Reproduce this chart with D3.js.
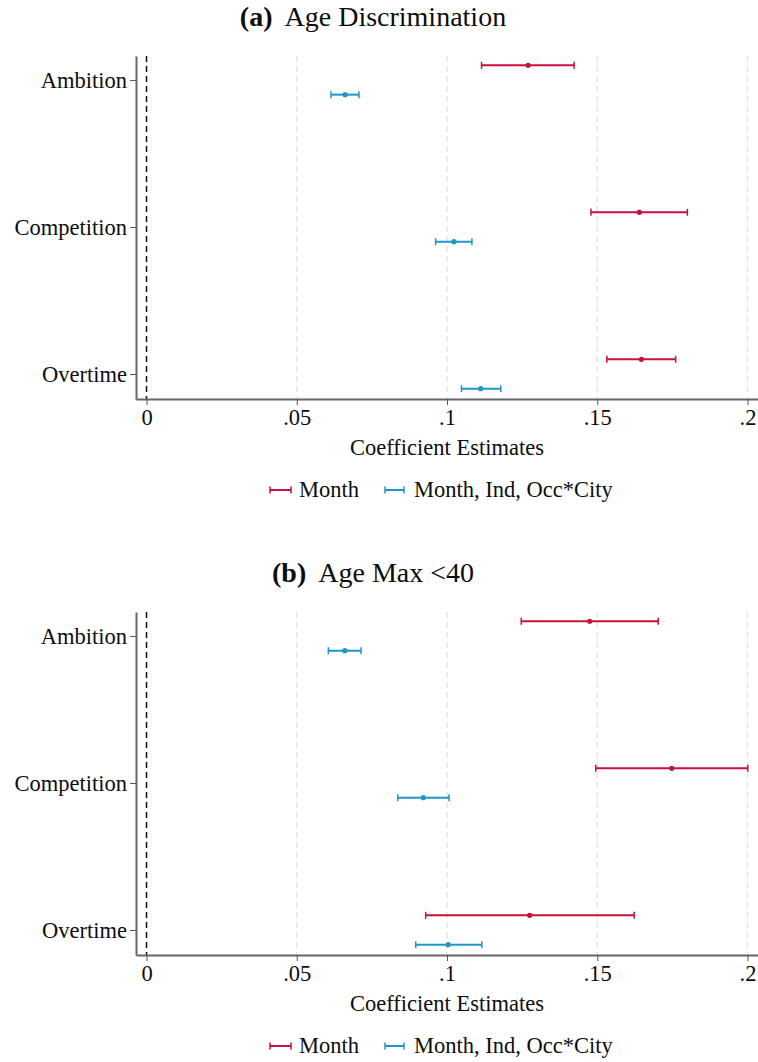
<!DOCTYPE html>
<html>
<head>
<meta charset="utf-8">
<script src="https://cdn.jsdelivr.net/npm/d3@7"></script>
<style>
  html, body { margin: 0; padding: 0; background: #fff; }
  svg { display: block; }
</style>
</head>
<body>
<svg id="chart" width="758" height="1062"></svg>
<script>
// Outcome categories shown on the vertical axis
const categories = ["Ambition", "Competition", "Overtime"];

// Series names (fixed-effect specifications)
const seriesNames = ["Month", "Month, Ind, Occ*City"];

// Panel (a): Age Discrimination
const ageDiscMonthEst = [0.1270, 0.1640, 0.1647];
const ageDiscMonthLo  = [0.1115, 0.1479, 0.1532];
const ageDiscMonthHi  = [0.1423, 0.1800, 0.1761];
const ageDiscFullEst  = [0.0661, 0.1023, 0.1112];
const ageDiscFullLo   = [0.0614, 0.0962, 0.1048];
const ageDiscFullHi   = [0.0707, 0.1083, 0.1179];

// Panel (b): Age Max <40
const ageMaxMonthEst = [0.1475, 0.1748, 0.1275];
const ageMaxMonthLo  = [0.1247, 0.1495, 0.0929];
const ageMaxMonthHi  = [0.1703, 0.2001, 0.1623];
const ageMaxFullEst  = [0.0660, 0.0921, 0.1004];
const ageMaxFullLo   = [0.0605, 0.0836, 0.0896];
const ageMaxFullHi   = [0.0714, 0.1007, 0.1116];

// X-axis ticks and their labels
const xTickValues = [0, 0.05, 0.1, 0.15, 0.2];
const xTickLabels = ["0", ".05", ".1", ".15", ".2"];

const FONT = "'Liberation Serif', 'Times New Roman', Times, serif";
const colors = ["#c8113c", "#1f97c9"];
const svg = d3.select("#chart");

const panels = [
  { tag: "(a)", name: "Age Discrimination", top: 56,
    series: [
      { est: ageDiscMonthEst, lo: ageDiscMonthLo, hi: ageDiscMonthHi },
      { est: ageDiscFullEst,  lo: ageDiscFullLo,  hi: ageDiscFullHi }
    ] },
  { tag: "(b)", name: "Age Max <40", top: 612,
    series: [
      { est: ageMaxMonthEst, lo: ageMaxMonthLo, hi: ageMaxMonthHi },
      { est: ageMaxFullEst,  lo: ageMaxFullLo,  hi: ageMaxFullHi }
    ] }
];

const plotLeft = 136, plotRight = 758, plotHeight = 343;
const x = d3.scaleLinear().domain([-0.0035, 0.2035]).range([plotLeft, plotRight]);
const offsets = [-0.1, 0.1];
const capHalf = 3.5;
const labelSize = 22.5;

function label(sel, size) {
  return sel.style("font-family", FONT).style("font-size", size + "px").style("fill", "#0d0d0d");
}

function ciSymbol(g, cx, cy, halfW, color) {
  g.append("line").attr("x1", cx - halfW).attr("x2", cx + halfW)
    .attr("y1", cy).attr("y2", cy).attr("stroke", color).attr("stroke-width", 2);
  [cx - halfW, cx + halfW].forEach(px => {
    g.append("line").attr("x1", px).attr("x2", px)
      .attr("y1", cy - capHalf).attr("y2", cy + capHalf)
      .attr("stroke", color).attr("stroke-width", 1.5);
  });
}

panels.forEach(p => {
  const g = svg.append("g");
  const top = p.top, bottom = p.top + plotHeight;
  const y = d3.scaleLinear().domain([0.837, 3.17]).range([top, bottom]);

  // Title: bold tag followed by the panel name
  const title = label(g.append("text"), 28)
    .attr("x", 373).attr("y", top - 30)
    .attr("text-anchor", "middle");
  title.append("tspan").style("font-weight", "bold").text(p.tag);
  title.append("tspan").attr("dx", 12).text(p.name);

  // Vertical dashed grid lines
  g.selectAll(".grid").data(xTickValues.filter(v => v > 0)).enter()
    .append("line")
    .attr("x1", d => x(d)).attr("x2", d => x(d))
    .attr("y1", top).attr("y2", bottom)
    .attr("stroke", "#e6e6e6").attr("stroke-width", 1.5)
    .attr("stroke-dasharray", "6,4");

  // Reference line at zero
  g.append("line")
    .attr("x1", x(0)).attr("x2", x(0))
    .attr("y1", top).attr("y2", bottom)
    .attr("stroke", "#111").attr("stroke-width", 1.5)
    .attr("stroke-dasharray", "6,4");

  // Y axis with category labels
  const yAxis = d3.axisLeft(y)
    .tickValues([1, 2, 3])
    .tickFormat((d, i) => categories[i])
    .tickSize(6).tickSizeOuter(0).tickPadding(3);
  const ya = g.append("g").attr("transform", `translate(${plotLeft},0)`).call(yAxis)
    .attr("font-family", null).attr("font-size", null);
  ya.select(".domain").attr("stroke", "#666").attr("stroke-width", 2);
  ya.selectAll(".tick line").attr("stroke", "#555").attr("stroke-width", 1);
  label(ya.selectAll(".tick text"), labelSize);

  // X axis
  const xAxis = d3.axisBottom(x)
    .tickValues(xTickValues)
    .tickFormat((d, i) => xTickLabels[i])
    .tickSize(6).tickSizeOuter(0).tickPadding(4);
  const xa = g.append("g").attr("transform", `translate(0,${bottom})`).call(xAxis)
    .attr("font-family", null).attr("font-size", null);
  xa.select(".domain").attr("stroke", "#666").attr("stroke-width", 2);
  xa.selectAll(".tick line").attr("stroke", "#555").attr("stroke-width", 1);
  label(xa.selectAll(".tick text"), labelSize);

  // Axis title
  label(g.append("text"), labelSize).attr("x", 447).attr("y", bottom + 56)
    .attr("text-anchor", "middle")
    .text("Coefficient Estimates");

  // Confidence intervals and point estimates
  p.series.forEach((s, si) => {
    const color = colors[si];
    const sg = g.append("g");
    categories.forEach((c, ci) => {
      const cy = y(ci + 1 + offsets[si]);
      sg.append("line")
        .attr("x1", x(s.lo[ci])).attr("x2", x(s.hi[ci]))
        .attr("y1", cy).attr("y2", cy)
        .attr("stroke", color).attr("stroke-width", 2);
      [s.lo[ci], s.hi[ci]].forEach(v => {
        sg.append("line")
          .attr("x1", x(v)).attr("x2", x(v))
          .attr("y1", cy - capHalf).attr("y2", cy + capHalf)
          .attr("stroke", color).attr("stroke-width", 1.5);
      });
      sg.append("circle")
        .attr("cx", x(s.est[ci])).attr("cy", cy).attr("r", 2.6)
        .attr("fill", color);
    });
  });

  // Legend
  const ly = bottom + 91;
  const leg = g.append("g");
  ciSymbol(leg, 280.5, ly, 10.5, colors[0]);
  label(leg.append("text"), labelSize).attr("x", 299).attr("y", ly + 7).text(seriesNames[0]);
  ciSymbol(leg, 394.5, ly, 9.5, colors[1]);
  label(leg.append("text"), labelSize).attr("x", 414).attr("y", ly + 7).text(seriesNames[1]);
});
</script>
</body>
</html>
